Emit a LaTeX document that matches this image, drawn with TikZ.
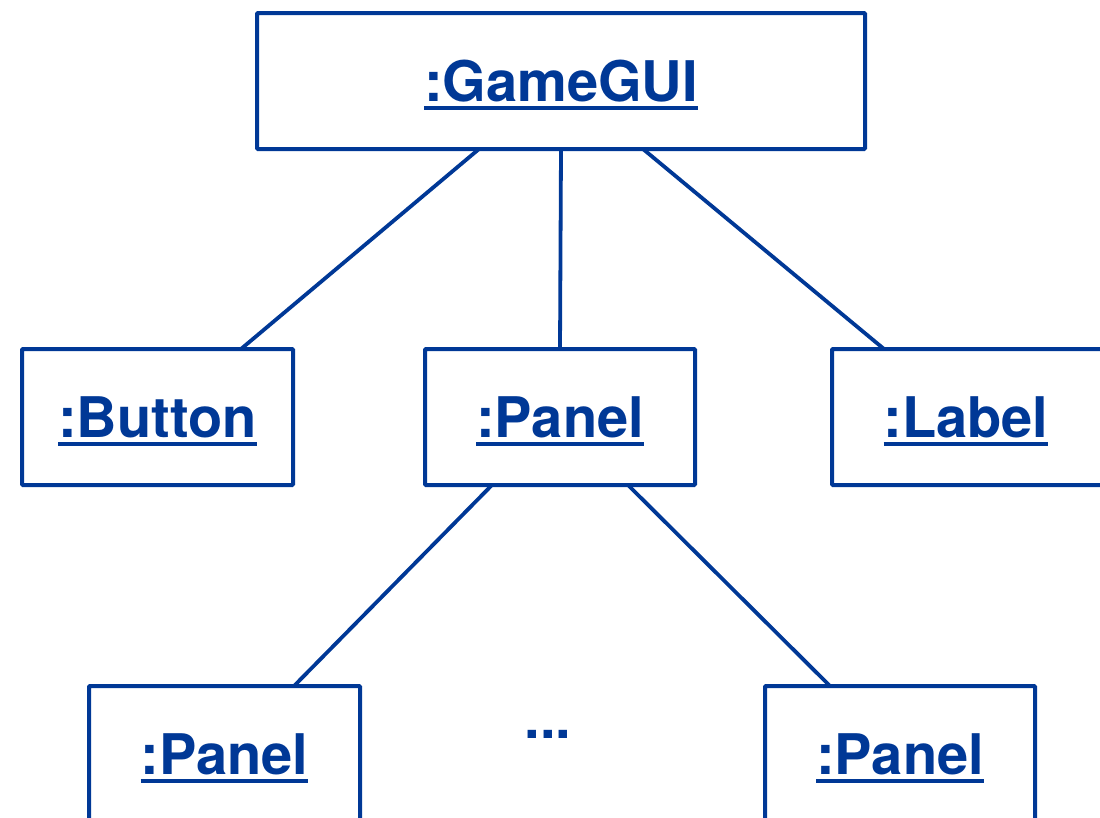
\documentclass[tikz,border=0pt]{standalone}
\usepackage{fontspec}
\setmainfont{TeX Gyre Heros}
\definecolor{umlblue}{RGB}{0,56,150}
\newcommand{\ulname}[1]{\setbox0\hbox{#1}\rlap{\rule[-8.5pt]{\wd0}{3.5pt}}\box0}
\tikzset{
  obj/.style={draw=umlblue, line width=4pt, fill=none, minimum height=136pt, inner sep=0pt, outer sep=0pt, rounded corners=1pt},
  objtext/.style={text=umlblue, font=\fontsize{56}{60}\selectfont\bfseries, anchor=base, inner sep=0pt},
  link/.style={draw=umlblue, line width=3.8pt}
}
\begin{document}
\begin{tikzpicture}[x=1pt,y=-1pt]
\useasboundingbox (0,0) rectangle (1100,817);
\clip (0,0) rectangle (1100,817);
\node[obj, minimum width=608pt] (gui) at (561,81) {};
\node[obj, minimum width=271pt] (button) at (157.5,417) {};
\node[obj, minimum width=270pt] (panel) at (560,417) {};
\node[obj, minimum width=270pt] (label) at (967,417) {};
\node[obj, minimum width=271pt] (pl) at (224.5,754) {};
\node[obj, minimum width=270pt] (pr) at (900,754) {};

\node[objtext] (guit) at (561,101) {\ulname{:GameGUI}};
\node[objtext] (buttont) at (157.5,437) {\ulname{:Button}};
\node[objtext] (panelt) at (560,437) {\ulname{:Panel}};
\node[objtext] (labelt) at (966,437) {\ulname{:Label}};
\node[objtext] (plt) at (224.5,774) {\ulname{:Panel}};
\node[objtext] (prt) at (900,774) {\ulname{:Panel}};
\node[objtext] (dots) at (548,738) {...};

\draw[link] ([xshift=-82pt]gui.south) -- ([xshift=83.5pt]button.north);
\draw[link] (gui.south) -- (panel.north);
\draw[link] ([xshift=82pt]gui.south) -- ([xshift=-83pt]label.north);
\draw[link] ([xshift=-68pt]panel.south) -- ([xshift=69.5pt]pl.north);
\draw[link] ([xshift=68pt]panel.south) -- ([xshift=-70pt]pr.north);
\end{tikzpicture}
\end{document}
